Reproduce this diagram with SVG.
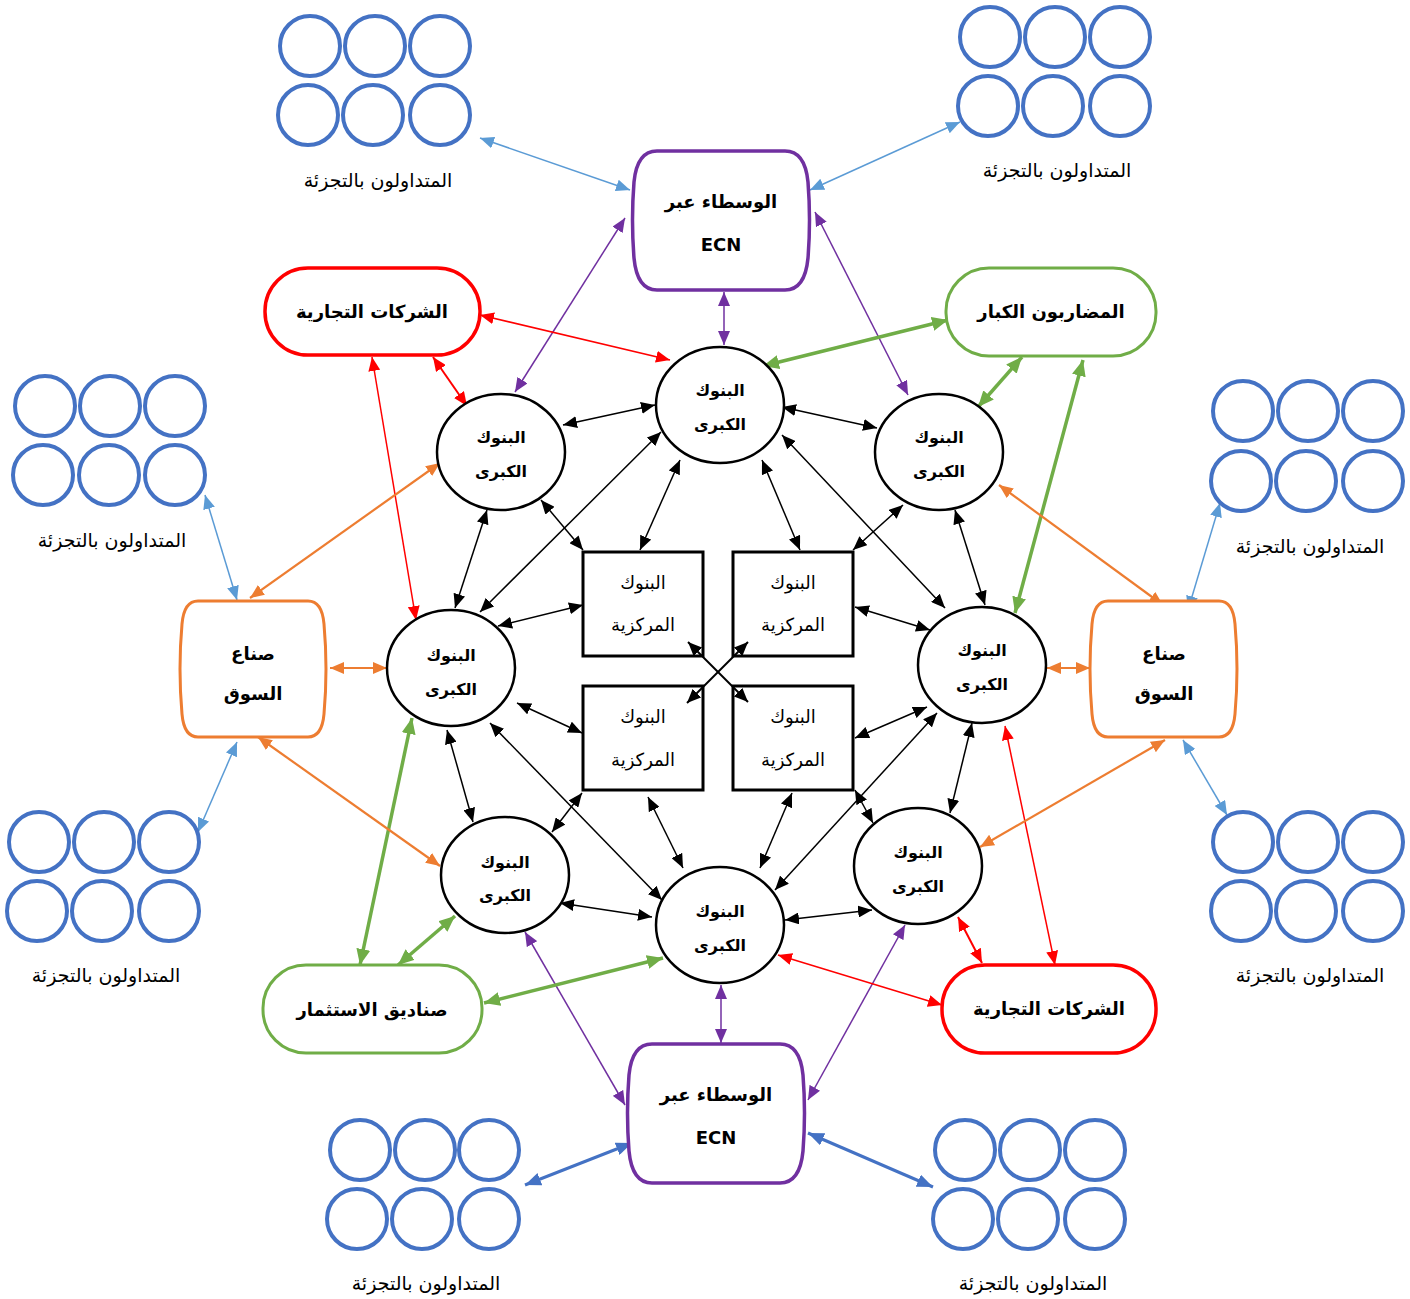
<svg xmlns="http://www.w3.org/2000/svg" width="1410" height="1299" viewBox="0 0 1410 1299">
<style>
text{font-family:"DejaVu Sans","Noto Sans",sans-serif;text-anchor:middle;fill:#000}
.lbl{font-size:18px;font-weight:bold}
.bank{font-size:16px;font-weight:bold}
.cb{font-size:18px}
.ret{font-size:19px}
.rc circle{fill:#fff;stroke:#4472C4;stroke-width:4}
.bk{fill:#fff;stroke:#000;stroke-width:2.5}
.cr{fill:#fff;stroke:#000;stroke-width:3}
.k{stroke:#000;stroke-width:1.5;fill:none;marker-start:url(#mk);marker-end:url(#mk)}
.b1{stroke:#5B9BD5;stroke-width:1.5;marker-start:url(#mb1);marker-end:url(#mb1)}
.b2{stroke:#4472C4;stroke-width:3;marker-start:url(#mb2);marker-end:url(#mb2)}
.p{stroke:#7030A0;stroke-width:1.5;marker-start:url(#mp);marker-end:url(#mp)}
.r{stroke:#FF0000;stroke-width:1.5;marker-start:url(#mr);marker-end:url(#mr)}
.r2{stroke:#FF0000;stroke-width:2;marker-start:url(#mr);marker-end:url(#mr)}
.g{stroke:#70AD47;stroke-width:3.5;marker-start:url(#mg);marker-end:url(#mg)}
.o{stroke:#ED7D31;stroke-width:2.2;marker-start:url(#mo);marker-end:url(#mo)}
</style>
<defs>
<marker id="mk" viewBox="0 0 14 12" refX="14" refY="6" markerWidth="14" markerHeight="12" markerUnits="userSpaceOnUse" orient="auto-start-reverse"><path d="M0,0 L14,6 L0,12 z" fill="#000"/></marker>
<marker id="mb1" viewBox="0 0 14 12" refX="14" refY="6" markerWidth="14" markerHeight="12" markerUnits="userSpaceOnUse" orient="auto-start-reverse"><path d="M0,0 L14,6 L0,12 z" fill="#5B9BD5"/></marker>
<marker id="mb2" viewBox="0 0 16 13" refX="16" refY="6.5" markerWidth="16" markerHeight="13" markerUnits="userSpaceOnUse" orient="auto-start-reverse"><path d="M0,0 L16,6.5 L0,13 z" fill="#4472C4"/></marker>
<marker id="mp" viewBox="0 0 14 12" refX="14" refY="6" markerWidth="14" markerHeight="12" markerUnits="userSpaceOnUse" orient="auto-start-reverse"><path d="M0,0 L14,6 L0,12 z" fill="#7030A0"/></marker>
<marker id="mr" viewBox="0 0 14 12" refX="14" refY="6" markerWidth="14" markerHeight="12" markerUnits="userSpaceOnUse" orient="auto-start-reverse"><path d="M0,0 L14,6 L0,12 z" fill="#FF0000"/></marker>
<marker id="mg" viewBox="0 0 16 14" refX="16" refY="7" markerWidth="16" markerHeight="14" markerUnits="userSpaceOnUse" orient="auto-start-reverse"><path d="M0,0 L16,7 L0,14 z" fill="#70AD47"/></marker>
<marker id="mo" viewBox="0 0 14 12" refX="14" refY="6" markerWidth="14" markerHeight="12" markerUnits="userSpaceOnUse" orient="auto-start-reverse"><path d="M0,0 L14,6 L0,12 z" fill="#ED7D31"/></marker>
</defs>
<rect width="1410" height="1299" fill="#fff"/>

<g id="connectors">
<line class="k" x1="563" y1="425" x2="655" y2="405"/>
<line class="k" x1="782" y1="407" x2="877" y2="428"/>
<line class="k" x1="487" y1="510" x2="455" y2="608"/>
<line class="k" x1="661" y1="432" x2="480" y2="612"/>
<line class="k" x1="541" y1="500" x2="583" y2="550"/>
<line class="k" x1="680" y1="460" x2="640" y2="550"/>
<line class="k" x1="762" y1="460" x2="800" y2="550"/>
<line class="k" x1="903" y1="505" x2="853" y2="550"/>
<line class="k" x1="782" y1="435" x2="945" y2="608"/>
<line class="k" x1="955" y1="510" x2="985" y2="605"/>
<line class="k" x1="498" y1="626" x2="583" y2="605"/>
<line class="k" x1="855" y1="607" x2="930" y2="630"/>
<line class="k" x1="517" y1="703" x2="582" y2="733"/>
<line class="k" x1="447" y1="730" x2="473" y2="822"/>
<line class="k" x1="490" y1="723" x2="662" y2="900"/>
<line class="k" x1="582" y1="793" x2="552" y2="832"/>
<line class="k" x1="648" y1="797" x2="683" y2="868"/>
<line class="k" x1="560" y1="903" x2="652" y2="917"/>
<line class="k" x1="792" y1="793" x2="760" y2="868"/>
<line class="k" x1="937" y1="713" x2="775" y2="890"/>
<line class="k" x1="927" y1="707" x2="855" y2="738"/>
<line class="k" x1="972" y1="723" x2="950" y2="813"/>
<line class="k" x1="855" y1="790" x2="873" y2="823"/>
<line class="k" x1="785" y1="920" x2="872" y2="910"/>
<line class="b1" x1="480" y1="138" x2="630" y2="190"/>
<line class="b1" x1="960" y1="122" x2="810" y2="190"/>
<line class="b1" x1="205" y1="495" x2="237" y2="600"/>
<line class="b1" x1="1220" y1="503" x2="1188" y2="610"/>
<line class="b1" x1="198" y1="832" x2="237" y2="742"/>
<line class="b1" x1="1183" y1="740" x2="1227" y2="815"/>
<line class="b2" x1="525" y1="1185" x2="632" y2="1143"/>
<line class="b2" x1="808" y1="1133" x2="933" y2="1187"/>
<line class="p" x1="724" y1="292" x2="724" y2="345"/>
<line class="p" x1="625" y1="218" x2="515" y2="392"/>
<line class="p" x1="815" y1="212" x2="908" y2="395"/>
<line class="p" x1="721" y1="985" x2="721" y2="1043"/>
<line class="p" x1="525" y1="932" x2="625" y2="1105"/>
<line class="p" x1="905" y1="925" x2="808" y2="1100"/>
<line class="r" x1="480" y1="315" x2="670" y2="360"/>
<line class="r2" x1="433" y1="357" x2="467" y2="406"/>
<line class="r" x1="372" y1="357" x2="416" y2="620"/>
<line class="r" x1="778" y1="955" x2="942" y2="1005"/>
<line class="r2" x1="958" y1="917" x2="982" y2="963"/>
<line class="r" x1="1005" y1="726" x2="1055" y2="965"/>
<line class="g" x1="948" y1="320" x2="763" y2="366"/>
<line class="g" x1="1022" y1="357" x2="978" y2="407"/>
<line class="g" x1="1083" y1="360" x2="1015" y2="613"/>
<line class="g" x1="412" y1="718" x2="360" y2="965"/>
<line class="g" x1="455" y1="916" x2="398" y2="965"/>
<line class="g" x1="484" y1="1003" x2="663" y2="958"/>
<line class="o" x1="250" y1="598" x2="440" y2="463"/>
<line class="o" x1="330" y1="668" x2="387" y2="668"/>
<line class="o" x1="258" y1="737" x2="440" y2="866"/>
<line class="o" x1="999" y1="485" x2="1163" y2="605"/>
<line class="o" x1="1047" y1="668" x2="1090" y2="668"/>
<line class="o" x1="980" y1="847" x2="1165" y2="740"/>
</g>

<g id="retail-tl" class="rc">
<circle cx="310" cy="46" r="30"/><circle cx="375" cy="46" r="30"/><circle cx="440" cy="46" r="30"/>
<circle cx="308" cy="115" r="30"/><circle cx="373" cy="115" r="30"/><circle cx="440" cy="115" r="30"/>
<text class="ret" x="378" y="187">المتداولون بالتجزئة</text>
</g>
<g id="retail-tr" class="rc">
<circle cx="990" cy="37" r="30"/><circle cx="1055" cy="37" r="30"/><circle cx="1120" cy="37" r="30"/>
<circle cx="988" cy="106" r="30"/><circle cx="1053" cy="106" r="30"/><circle cx="1120" cy="106" r="30"/>
<text class="ret" x="1057" y="177">المتداولون بالتجزئة</text>
</g>
<g id="retail-lu" class="rc">
<circle cx="45" cy="406" r="30"/><circle cx="110" cy="406" r="30"/><circle cx="175" cy="406" r="30"/>
<circle cx="43" cy="475" r="30"/><circle cx="109" cy="475" r="30"/><circle cx="175" cy="475" r="30"/>
<text class="ret" x="112" y="547">المتداولون بالتجزئة</text>
</g>
<g id="retail-ru" class="rc">
<circle cx="1243" cy="411" r="30"/><circle cx="1308" cy="411" r="30"/><circle cx="1373" cy="411" r="30"/>
<circle cx="1241" cy="481" r="30"/><circle cx="1306" cy="481" r="30"/><circle cx="1373" cy="481" r="30"/>
<text class="ret" x="1310" y="553">المتداولون بالتجزئة</text>
</g>
<g id="retail-ll" class="rc">
<circle cx="39" cy="842" r="30"/><circle cx="104" cy="842" r="30"/><circle cx="169" cy="842" r="30"/>
<circle cx="37" cy="911" r="30"/><circle cx="102" cy="911" r="30"/><circle cx="169" cy="911" r="30"/>
<text class="ret" x="106" y="982">المتداولون بالتجزئة</text>
</g>
<g id="retail-rl" class="rc">
<circle cx="1243" cy="842" r="30"/><circle cx="1308" cy="842" r="30"/><circle cx="1373" cy="842" r="30"/>
<circle cx="1241" cy="911" r="30"/><circle cx="1306" cy="911" r="30"/><circle cx="1373" cy="911" r="30"/>
<text class="ret" x="1310" y="982">المتداولون بالتجزئة</text>
</g>
<g id="retail-bl" class="rc">
<circle cx="360" cy="1150" r="30"/><circle cx="425" cy="1150" r="30"/><circle cx="489" cy="1150" r="30"/>
<circle cx="357" cy="1219" r="30"/><circle cx="422" cy="1219" r="30"/><circle cx="489" cy="1219" r="30"/>
<text class="ret" x="426" y="1290">المتداولون بالتجزئة</text>
</g>
<g id="retail-br" class="rc">
<circle cx="965" cy="1150" r="30"/><circle cx="1030" cy="1150" r="30"/><circle cx="1095" cy="1150" r="30"/>
<circle cx="963" cy="1219" r="30"/><circle cx="1028" cy="1219" r="30"/><circle cx="1095" cy="1219" r="30"/>
<text class="ret" x="1033" y="1290">المتداولون بالتجزئة</text>
</g>

<g id="ecn-top">
<path d="M657,151 H785 Q805,151 808,182 Q811,220 808,258 Q805,290 785,290 H657 Q637,290 634,258 Q631,220 634,182 Q637,151 657,151 Z" fill="#fff" stroke="#7030A0" stroke-width="3.5"/>
<text class="lbl" x="721" y="208">الوسطاء عبر</text>
<text class="lbl" x="721" y="251">ECN</text>
</g>
<g id="ecn-bottom">
<path d="M652,1044 H780 Q800,1044 803,1075 Q806,1113 803,1151 Q800,1183 780,1183 H652 Q632,1183 629,1151 Q626,1113 629,1075 Q632,1044 652,1044 Z" fill="#fff" stroke="#7030A0" stroke-width="3.5"/>
<text class="lbl" x="716" y="1101">الوسطاء عبر</text>
<text class="lbl" x="716" y="1144">ECN</text>
</g>

<g id="firms-top">
<rect x="265" y="268" width="215" height="87" rx="43" fill="#fff" stroke="#FF0000" stroke-width="3.5"/>
<text class="lbl" x="372" y="318">الشركات التجارية</text>
</g>
<g id="speculators">
<rect x="946" y="268" width="210" height="88" rx="43" fill="#fff" stroke="#70AD47" stroke-width="3"/>
<text class="lbl" x="1051" y="318">المضاربون الكبار</text>
</g>
<g id="funds">
<rect x="263" y="965" width="219" height="88" rx="43" fill="#fff" stroke="#70AD47" stroke-width="3"/>
<text class="lbl" x="372" y="1016">صناديق الاستثمار</text>
</g>
<g id="firms-bottom">
<rect x="942" y="965" width="214" height="88" rx="43" fill="#fff" stroke="#FF0000" stroke-width="3.5"/>
<text class="lbl" x="1049" y="1015">الشركات التجارية</text>
</g>

<g id="mm-left">
<path d="M198,601 H308 Q322,601 324,624 Q328,669 324,714 Q322,737 308,737 H198 Q184,737 182,714 Q178,669 182,624 Q184,601 198,601 Z" fill="#fff" stroke="#ED7D31" stroke-width="3"/>
<text class="lbl" x="253" y="660">صناع</text>
<text class="lbl" x="253" y="700">السوق</text>
</g>
<g id="mm-right">
<path d="M1108,601 H1219 Q1233,601 1235,624 Q1239,669 1235,714 Q1233,737 1219,737 H1108 Q1094,737 1092,714 Q1088,669 1092,624 Q1094,601 1108,601 Z" fill="#fff" stroke="#ED7D31" stroke-width="3"/>
<text class="lbl" x="1164" y="660">صناع</text>
<text class="lbl" x="1164" y="700">السوق</text>
</g>

<g id="bank-tc"><ellipse class="bk" cx="720" cy="405" rx="64" ry="58"/><text class="bank" x="720" y="396">البنوك</text><text class="bank" x="720" y="430">الكبرى</text></g>
<g id="bank-tl"><ellipse class="bk" cx="501" cy="452" rx="64" ry="58"/><text class="bank" x="501" y="443">البنوك</text><text class="bank" x="501" y="477">الكبرى</text></g>
<g id="bank-tr"><ellipse class="bk" cx="939" cy="452" rx="64" ry="58"/><text class="bank" x="939" y="443">البنوك</text><text class="bank" x="939" y="477">الكبرى</text></g>
<g id="bank-ml"><ellipse class="bk" cx="451" cy="668" rx="64" ry="58"/><text class="bank" x="451" y="661">البنوك</text><text class="bank" x="451" y="695">الكبرى</text></g>
<g id="bank-mr"><ellipse class="bk" cx="982" cy="665" rx="64" ry="58"/><text class="bank" x="982" y="656">البنوك</text><text class="bank" x="982" y="690">الكبرى</text></g>
<g id="bank-bl"><ellipse class="bk" cx="505" cy="875" rx="64" ry="58"/><text class="bank" x="505" y="868">البنوك</text><text class="bank" x="505" y="901">الكبرى</text></g>
<g id="bank-bc"><ellipse class="bk" cx="720" cy="925" rx="64" ry="58"/><text class="bank" x="720" y="917">البنوك</text><text class="bank" x="720" y="951">الكبرى</text></g>
<g id="bank-br"><ellipse class="bk" cx="918" cy="866" rx="64" ry="58"/><text class="bank" x="918" y="858">البنوك</text><text class="bank" x="918" y="892">الكبرى</text></g>

<g id="cb-tl"><rect class="cr" x="583" y="552" width="120" height="104"/><text class="cb" x="643" y="589">البنوك</text><text class="cb" x="643" y="631">المركزية</text></g>
<g id="cb-tr"><rect class="cr" x="733" y="552" width="120" height="104"/><text class="cb" x="793" y="589">البنوك</text><text class="cb" x="793" y="631">المركزية</text></g>
<g id="cb-bl"><rect class="cr" x="583" y="686" width="120" height="104"/><text class="cb" x="643" y="723">البنوك</text><text class="cb" x="643" y="766">المركزية</text></g>
<g id="cb-br"><rect class="cr" x="733" y="686" width="120" height="104"/><text class="cb" x="793" y="723">البنوك</text><text class="cb" x="793" y="766">المركزية</text></g>

<g id="connectors-cross">
<line class="k" style="stroke-width:2" x1="688" y1="642" x2="748" y2="702"/>
<line class="k" style="stroke-width:2" x1="748" y1="642" x2="687" y2="703"/>
</g>
</svg>
